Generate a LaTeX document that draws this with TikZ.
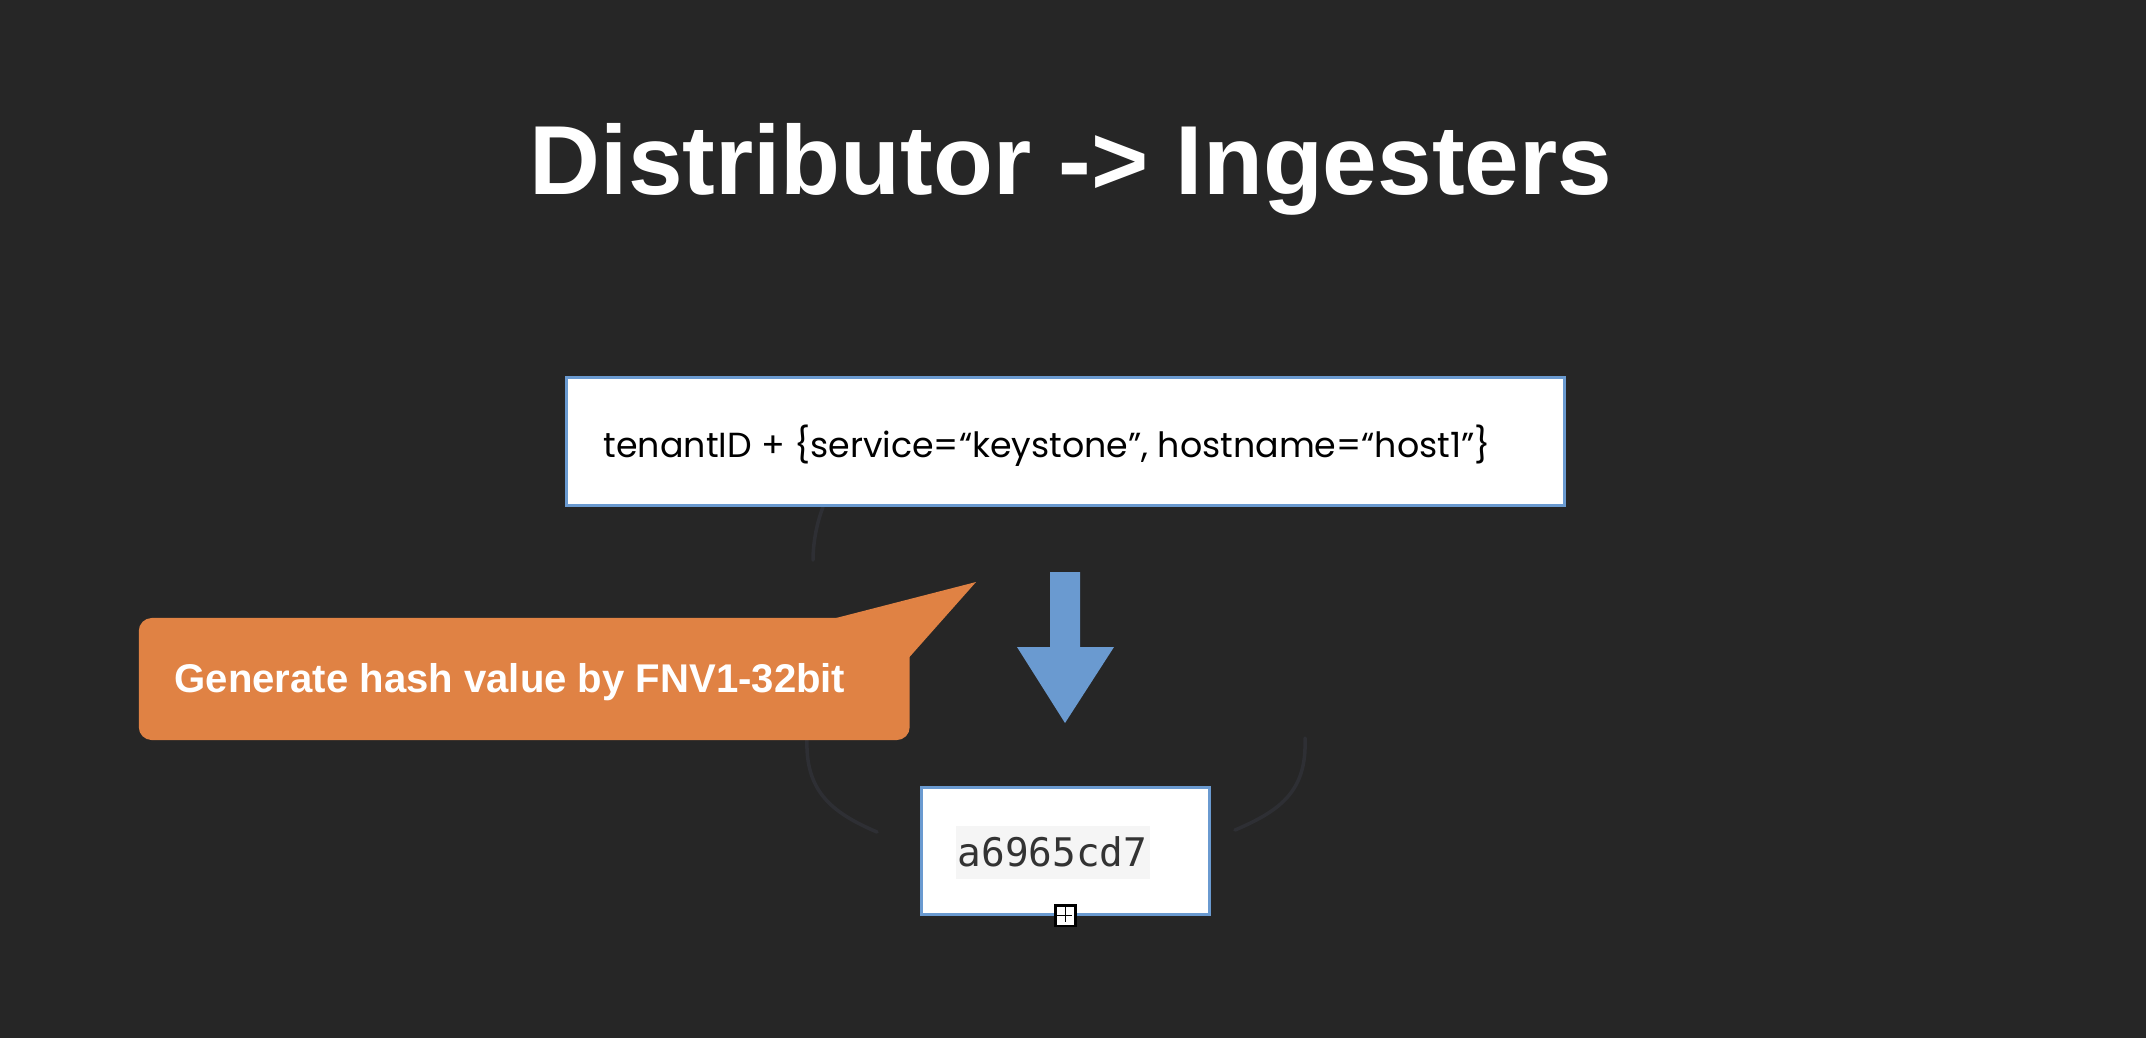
\documentclass[tikz,border=0pt]{standalone}
\usepackage{fontspec}
\setmainfont{Liberation Sans}
\newfontfamily\hashfont{DejaVu Sans Mono}
\newfontfamily\gothicfont{Poppins}
\definecolor{slide}{RGB}{38,38,38}
\definecolor{ring}{RGB}{46,47,52}
\definecolor{boxblue}{RGB}{106,154,208}
\definecolor{calloutorange}{RGB}{224,130,68}
\definecolor{codebg}{RGB}{245,245,245}
\definecolor{codegray}{RGB}{51,51,51}
\begin{document}
\begin{tikzpicture}[x=0.01cm,y=-0.01cm,
	box/.style={draw=boxblue,line width=0.85pt,fill=white,inner sep=0pt},
	ringline/.style={draw=ring,line width=1pt,line cap=round}]
	\fill[slide] (0,0) rectangle (2146,1038);
	\useasboundingbox (0,0) rectangle (2146,1038);
	% faint ring behind the boxes
	\draw[ringline] (823,507) .. controls (816,525) and (813,545) .. (813,560);
	\draw[ringline] (807,738) .. controls (805,790) and (830,812) .. (877,832);
	\draw[ringline] (1305,738) .. controls (1307,790) and (1282,810) .. (1235,830);
	% title
	\node[anchor=base,text=white,inner sep=0pt,font=\bfseries\fontsize{27.9pt}{33pt}\selectfont] (title) at (1071,194) {Distributor -> Ingesters};
	% labels box
	\node[box,minimum width=9.97cm,minimum height=1.27cm] (labels) at (1065.5,441.5) {};
	\node[anchor=base west,inner sep=0pt,font={\gothicfont\fontsize{9.9pt}{12pt}\selectfont}] (labeltext) at (603,457) {tenantID + \{service=“keystone”, hostname=“host1”\}};
	% block arrow
	\fill[boxblue] (1050,572) -- (1080,572) -- (1080,647) -- (1114,647) -- (1065,723) -- (1017,647) -- (1050,647) -- cycle;
	% callout
	\node[fill=calloutorange,rounded corners=0.13cm,minimum width=7.705cm,minimum height=1.22cm,inner sep=0pt] (note) at (524.25,679) {};
	\fill[calloutorange] (836,618) -- (976,582) -- (909.5,657) -- (890,657) -- (890,618) -- cycle;
	\node[anchor=base west,inner sep=0pt,text=white,font=\bfseries\fontsize{11.4pt}{14pt}\selectfont] (notetext) at (174,692) {Generate hash value by FNV1-32bit};
	% hash box
	\node[box,minimum width=2.87cm,minimum height=1.26cm] (hash) at (1065.5,851) {};
	\fill[codebg] (956,826) rectangle (1150,879);
	\node[anchor=base west,inner sep=0pt,text=codegray,font=\hashfont\fontsize{11.2pt}{14pt}\selectfont] (hashtext) at (957,866) {a6965cd7};
	\node[draw=black,fill=white,line width=0.6pt,minimum size=0.2cm,inner sep=0pt] (handle) at (hash.south) {};
	\draw[line width=0.5pt] (handle.west) ++(2.5,0) -- ++(15,0) (handle.north) ++(0,2.5) -- ++(0,15);
\end{tikzpicture}
\end{document}
